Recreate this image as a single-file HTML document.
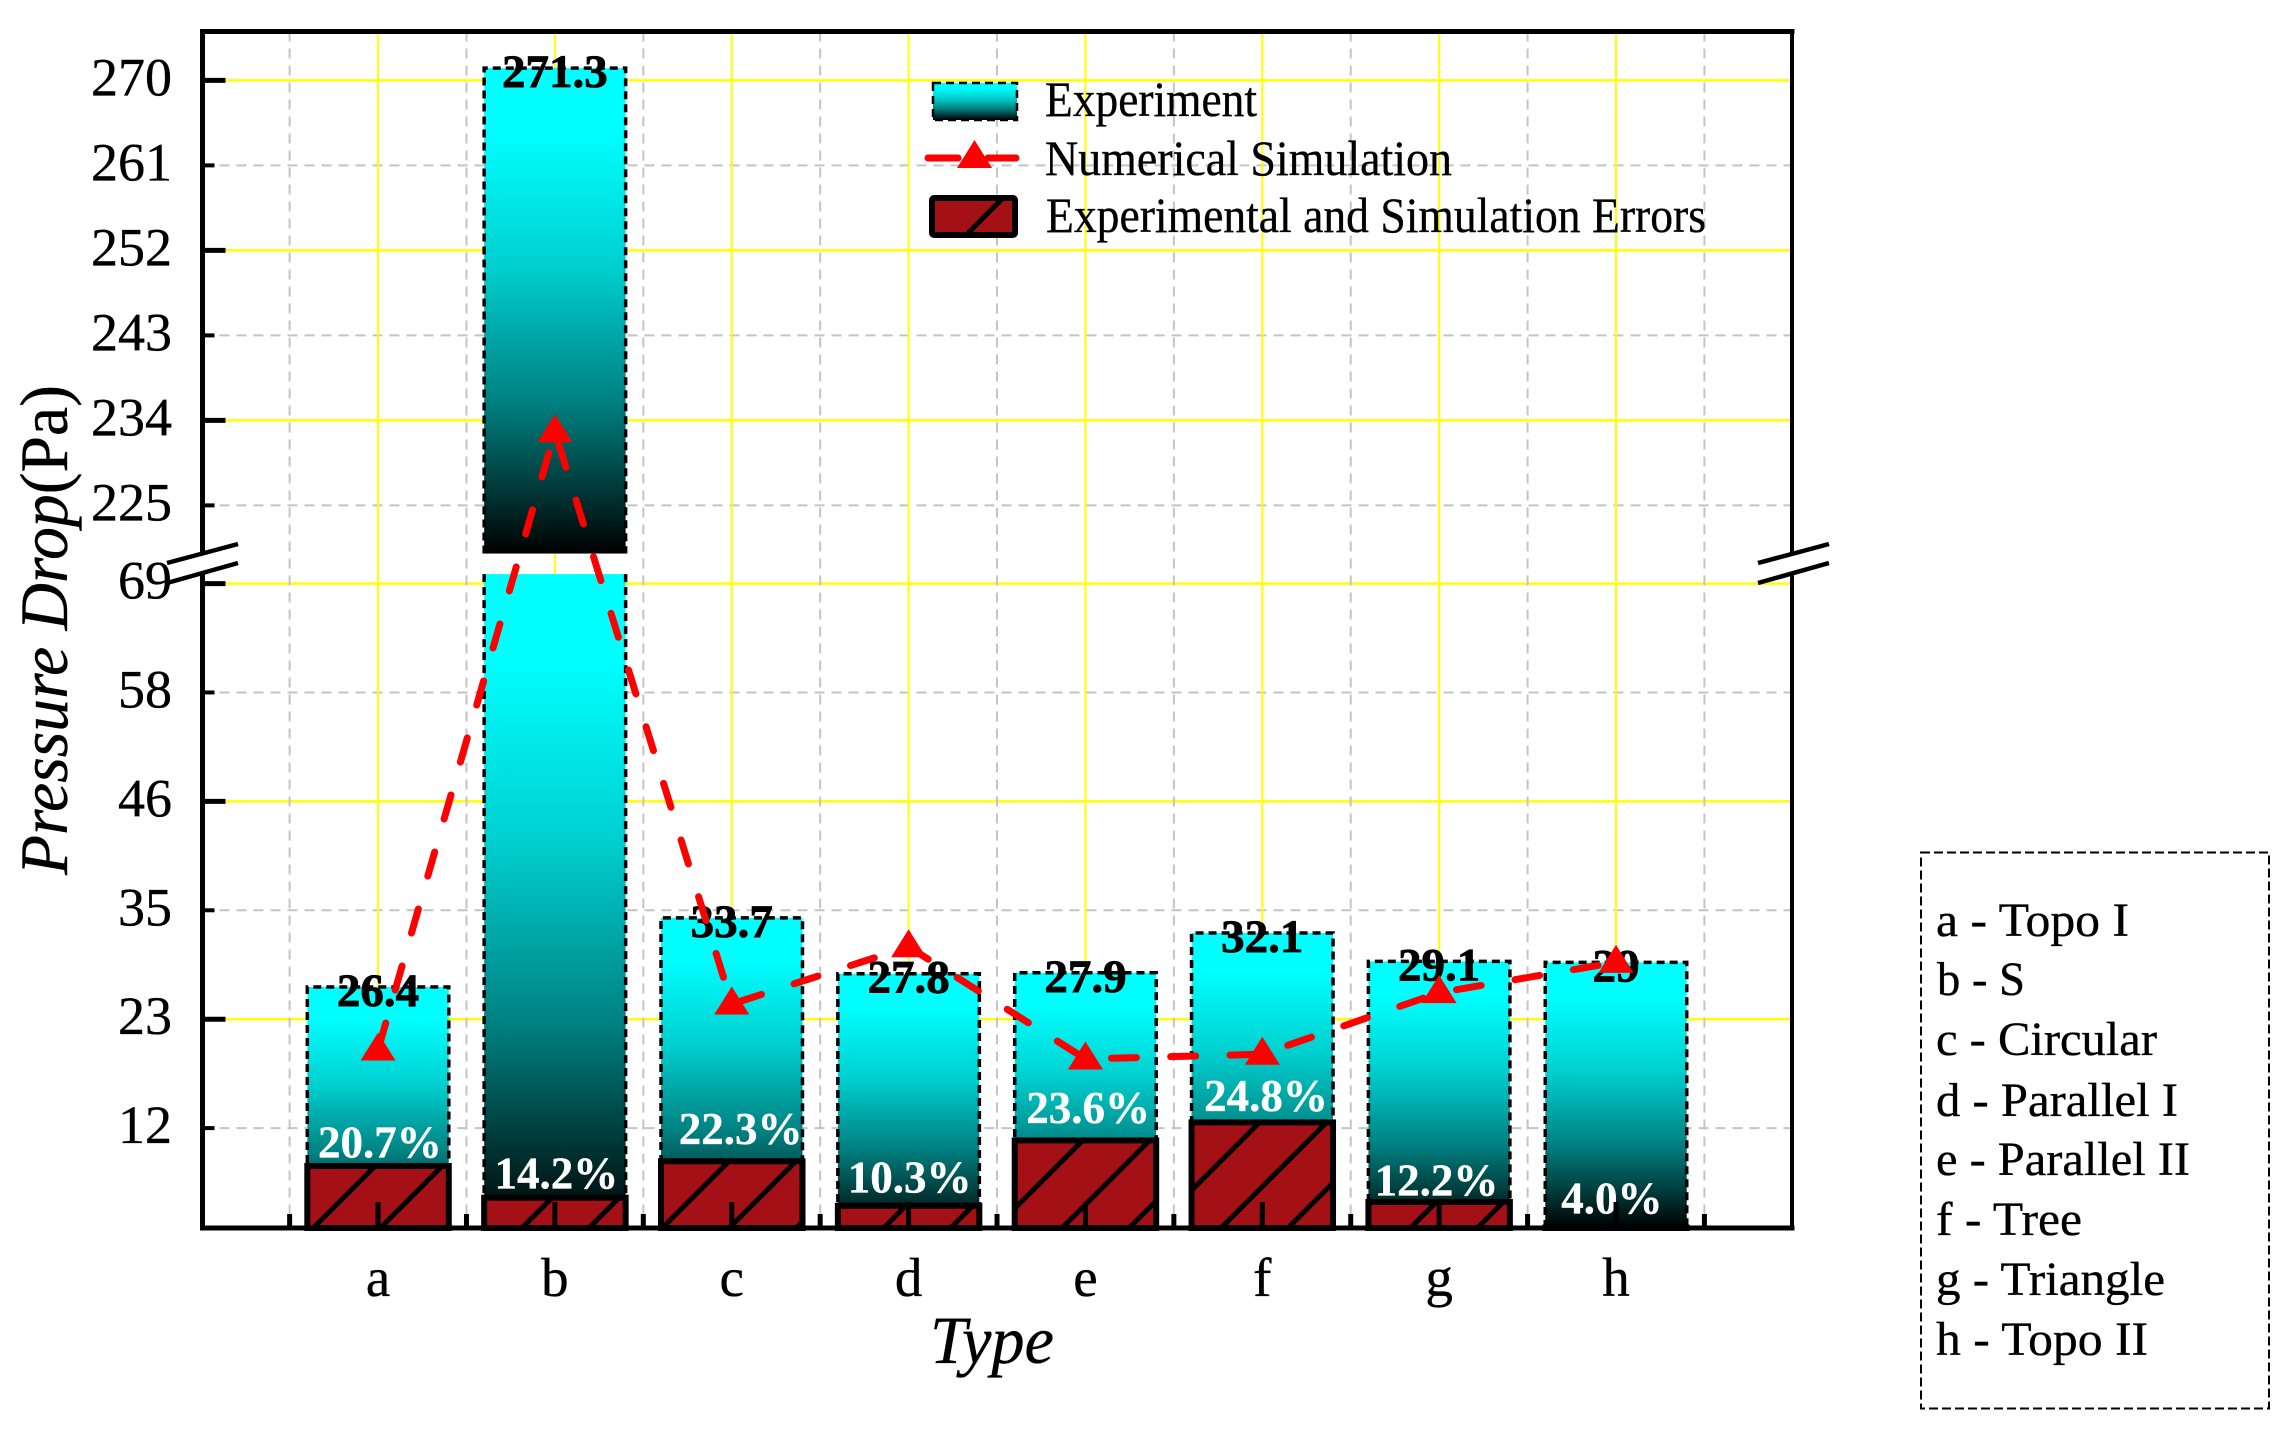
<!DOCTYPE html>
<html lang="en">
<head>
<meta charset="utf-8">
<title>Pressure Drop by Channel Type</title>
<style>
html,body{margin:0;padding:0;background:#fff;}
svg{display:block;}
text{font-family:"Liberation Serif","Times New Roman",serif;fill:#000;stroke:#000;stroke-width:.35px;}
</style>
</head>
<body>
<svg id="chart" xmlns="http://www.w3.org/2000/svg" width="2288" height="1433" viewBox="0 0 2288 1433">
  <defs>
    <linearGradient id="barGrad" x1="0" y1="0" x2="0" y2="1">
      <stop offset="0" stop-color="#00ffff"/>
      <stop offset="0.13" stop-color="#00ffff"/>
      <stop offset="0.41" stop-color="#00cfcf"/>
      <stop offset="0.69" stop-color="#008080"/>
      <stop offset="0.85" stop-color="#004040"/>
      <stop offset="1" stop-color="#000000"/>
    </linearGradient>
  </defs>
  <rect x="0" y="0" width="2288" height="1433" fill="#fff"/>
  <g id="gridLayer"></g>
  <g id="barLayer"></g>
  <g id="errorLayer"></g>
  <g id="valueLabelLayer"></g>
  <g id="errorLabelLayer"></g>
  <g id="lineLayer"></g>
  <g id="axisLayer"></g>

  <g>
    <g>
      <rect x="933" y="83" width="84" height="37" fill="url(#barGrad)" stroke="#000" stroke-width="2.5" stroke-dasharray="8 5"/>
      <text x="1045" y="116" font-size="50" textLength="212" lengthAdjust="spacingAndGlyphs">Experiment</text>
    </g>
    <g>
      <line x1="928" y1="158" x2="958" y2="158" stroke="#f00" stroke-width="7" stroke-linecap="round"/>
      <line x1="988" y1="158" x2="1016" y2="158" stroke="#f00" stroke-width="7" stroke-linecap="round"/>
      <polygon points="974.5,140 957,168 992,168" fill="#f00"/>
      <text x="1045" y="175" font-size="50" textLength="407" lengthAdjust="spacingAndGlyphs">Numerical Simulation</text>
    </g>
    <g>
      <rect x="932" y="198" width="83" height="37" rx="2" fill="#a31015" stroke="#000" stroke-width="6"/>
      <line x1="968" y1="233" x2="1003" y2="198" stroke="#000" stroke-width="5"/>
      <text x="1046" y="232" font-size="50" textLength="660" lengthAdjust="spacingAndGlyphs">Experimental and Simulation Errors</text>
    </g>
  </g>

  <g>
    <rect x="1921" y="852.5" width="348" height="556" fill="none" stroke="#000" stroke-width="2" stroke-dasharray="9 4"/>
    <text x="1936" y="936" font-size="48" textLength="193" lengthAdjust="spacingAndGlyphs">a - Topo I</text>
    <text x="1937" y="995" font-size="48" textLength="88" lengthAdjust="spacingAndGlyphs">b - S</text>
    <text x="1936" y="1055" font-size="48" textLength="221" lengthAdjust="spacingAndGlyphs">c - Circular</text>
    <text x="1936" y="1116" font-size="48" textLength="242" lengthAdjust="spacingAndGlyphs">d - Parallel I</text>
    <text x="1936" y="1175" font-size="48" textLength="254" lengthAdjust="spacingAndGlyphs">e - Parallel II</text>
    <text x="1936" y="1235" font-size="48" textLength="146" lengthAdjust="spacingAndGlyphs">f - Tree</text>
    <text x="1936" y="1295" font-size="48" textLength="229" lengthAdjust="spacingAndGlyphs">g - Triangle</text>
    <text x="1936" y="1355" font-size="48" textLength="212" lengthAdjust="spacingAndGlyphs">h - Topo II</text>
  </g>

  <text x="930" y="1363" font-size="68" font-style="italic" textLength="124" lengthAdjust="spacingAndGlyphs">Type</text>
  <text transform="translate(67,875) rotate(-90)" x="0" y="0" font-size="68" textLength="490" lengthAdjust="spacingAndGlyphs"><tspan font-style="italic">Pressure Drop</tspan>(Pa)</text>
</svg>

<script>
// ---- chart data ----
const categories = ['a', 'b', 'c', 'd', 'e', 'f', 'g', 'h'];
const experimentValues = [26.4, 271.3, 33.7, 27.8, 27.9, 32.1, 29.1, 29];
const experimentLabels = ['26.4', '271.3', '33.7', '27.8', '27.9', '32.1', '29.1', '29'];
const simulationValues = [19.75, 232.8, 24.6, 30.65, 18.8, 19.3, 25.8, 29.0];
const errorValues = [7.5, 4.15, 8.0, 3.3, 10.2, 12.1, 3.7, 1.0];
const errorLabels = ['20.7%', '14.2%', '22.3%', '10.3%', '23.6%', '24.8%', '12.2%', '4.0%'];
// how far each printed percentage sits above its error bar, in axis units / category units
const errorLabelLift = [0.9, 0.97, 1.82, 1.38, 1.84, 1.2, 0.66, 1.47];
const errorLabelShift = [0.01, 0.008, 0.05, 0.006, 0.015, 0.021, -0.015, -0.023];
const upperTicks = [270, 261, 252, 243, 234, 225];
const upperTickLabels = ['270', '261', '252', '243', '234', '225'];
const lowerTicks = [69, 57.5, 46, 34.5, 23, 11.5];
const lowerTickLabels = ['69', '58', '46', '35', '23', '12'];
const breakLow = 70;
const breakHigh = 219.9;

// ---- axis functions ----
function xScale(c) { return 201.2 + 176.85 * c; }
function yScale(v) {
  return v >= breakHigh ? 80.4 + (270 - v) * 9.444 : 1237 - 9.47 * v;
}
const BAR_W = 0.8;
const PLOT = { left: 202.5, right: 1792, top: 31.5, bottom: 1228 };
const NS = 'http://www.w3.org/2000/svg';
function make(tag, attrs, parent) {
  const n = document.createElementNS(NS, tag);
  for (const k in attrs) n.setAttribute(k, attrs[k]);
  parent.appendChild(n);
  return n;
}
const gridLayer = document.getElementById('gridLayer');
const barLayer = document.getElementById('barLayer');
const errorLayer = document.getElementById('errorLayer');
const valueLabelLayer = document.getElementById('valueLabelLayer');
const errorLabelLayer = document.getElementById('errorLabelLayer');
const lineLayer = document.getElementById('lineLayer');
const axisLayer = document.getElementById('axisLayer');
const defs = document.querySelector('#chart defs');

// ---- grid ----
function hGrid(v, major) {
  const y = yScale(v);
  const el = make('line', major
    ? { x1: PLOT.left, x2: PLOT.right, y1: y, y2: y, stroke: '#ffff00', 'stroke-width': 2.5 }
    : { x1: PLOT.left, x2: PLOT.right, y1: y, y2: y, stroke: '#c4c4c4', 'stroke-width': 2, 'stroke-dasharray': '10 7' }, gridLayer);
  
  
}
upperTicks.forEach((v, i) => hGrid(v, i % 2 === 0));
lowerTicks.forEach((v, i) => hGrid(v, i % 2 === 0));
categories.forEach((c, i) => {
  const el = make('line', { x1: xScale(i + 1), x2: xScale(i + 1), y1: PLOT.top, y2: PLOT.bottom, stroke: '#ffff00', 'stroke-width': 2 }, gridLayer);
  
  
});
for (let i = 0; i <= categories.length; i++) {
  const el = make('line', { x1: xScale(i + 0.5), x2: xScale(i + 0.5), y1: PLOT.top, y2: PLOT.bottom, stroke: '#c4c4c4', 'stroke-width': 2, 'stroke-dasharray': '10 7' }, gridLayer);
  
  
}

// ---- bars ----
function barPart(i, top, bottom, topEdge, name) {
  const l = xScale(i + 1 - BAR_W / 2), r = xScale(i + 1 + BAR_W / 2);
  const fill = make('rect', { x: l, y: top, width: r - l, height: bottom - top, fill: 'url(#barGrad)' }, barLayer);
  
  
  const d = (topEdge ? 'M' + l + ' ' + bottom + 'L' + l + ' ' + top + 'L' + r + ' ' + top + 'L' + r + ' ' + bottom
                     : 'M' + l + ' ' + top + 'L' + l + ' ' + bottom + 'M' + r + ' ' + top + 'L' + r + ' ' + bottom);
  const edge = make('path', { d: d, fill: 'none', stroke: '#000', 'stroke-width': 3.5, 'stroke-dasharray': '8 5' }, barLayer);
  
  
}
experimentValues.forEach((v, i) => {
  if (v >= breakHigh) {
    barPart(i, yScale(v), yScale(breakHigh), true, 'bar-' + categories[i] + '-upper');
    barPart(i, yScale(breakLow), PLOT.bottom, false, 'bar-' + categories[i] + '-lower');
  } else {
    barPart(i, yScale(v), PLOT.bottom, true, 'bar-' + categories[i]);
  }
});

// ---- error bars with 45 degree hatching anchored at the top-left corner ----
errorValues.forEach((v, i) => {
  const l = xScale(i + 1 - BAR_W / 2), r = xScale(i + 1 + BAR_W / 2);
  const top = yScale(v), h = PLOT.bottom - top;
  const fill = make('rect', { x: l, y: top, width: r - l, height: h, fill: '#a31015' }, errorLayer);
  
  
  const clip = make('clipPath', { id: 'errClip' + i }, defs);
  make('rect', { x: l, y: top, width: r - l, height: h }, clip);
  const hatch = make('g', { 'clip-path': 'url(#errClip' + i + ')' }, errorLayer);
  
  
  for (let xt = l + 68 - 67; xt - h < r; xt += 67) {
    const ln = make('line', { x1: xt, y1: top, x2: xt - h, y2: PLOT.bottom, stroke: '#000', 'stroke-width': 5 }, hatch);
    
    
  }
  const edge = make('rect', { x: l, y: top, width: r - l, height: h, fill: 'none', stroke: '#000', 'stroke-width': 6 }, errorLayer);
  
  
});

// ---- printed values ----
experimentValues.forEach((v, i) => {
  const t = make('text', { x: xScale(i + 1), y: yScale(v) + 19, 'text-anchor': 'middle', 'font-size': 47, 'font-weight': 'bold' }, valueLabelLayer);
  t.style.strokeWidth = '0.8px';
  t.textContent = experimentLabels[i];
  
  
});
errorValues.forEach((v, i) => {
  const t = make('text', { x: xScale(i + 1 + errorLabelShift[i]), y: yScale(v + errorLabelLift[i]), 'text-anchor': 'middle', 'font-size': 45, 'font-weight': 'bold' }, errorLabelLayer);
  t.style.fill = '#fff';
  t.style.stroke = '#fff';
  t.textContent = errorLabels[i];
  
  
});

// ---- simulation line ----
const linePoints = simulationValues.map((v, i) => xScale(i + 1) + ',' + yScale(v)).join(' ');
const simLine = make('polyline', { points: linePoints, fill: 'none', stroke: '#ff0000', 'stroke-width': 7, 'stroke-linecap': 'round', 'stroke-linejoin': 'round', 'stroke-dasharray': '25 34.3', 'stroke-dashoffset': -3 }, lineLayer);


simulationValues.forEach((v, i) => {
  const cx = xScale(i + 1), cy = yScale(v);
  const p = make('polygon', { points: cx + ',' + (cy - 17.5) + ' ' + (cx - 17.5) + ',' + (cy + 10.5) + ' ' + (cx + 17.5) + ',' + (cy + 10.5), fill: '#ff0000' }, lineLayer);
  
  
});

// ---- axes ----
function spine(x1, y1, x2, y2, w, name) {
  const l = make('line', { x1: x1, y1: y1, x2: x2, y2: y2, stroke: '#000', 'stroke-width': w, 'stroke-linecap': 'square' }, axisLayer);
  
  
}
spine(PLOT.left, PLOT.top, PLOT.left, PLOT.bottom, 5, 'left-spine');
spine(PLOT.left, PLOT.top, PLOT.right, PLOT.top, 5, 'top-spine');
spine(PLOT.right, PLOT.top, PLOT.right, PLOT.bottom, 4, 'right-spine');
spine(PLOT.left, PLOT.bottom, PLOT.right, PLOT.bottom, 5, 'bottom-spine');

function yTick(v, label, major) {
  const y = yScale(v);
  const l = make('line', { x1: PLOT.left, x2: PLOT.left + (major ? 23 : 12), y1: y, y2: y, stroke: '#000', 'stroke-width': major ? 5 : 4 }, axisLayer);
  
  
}
upperTicks.forEach((v, i) => yTick(v, upperTickLabels[i], i % 2 === 0));
lowerTicks.forEach((v, i) => yTick(v, lowerTickLabels[i], i % 2 === 0));
categories.forEach((c, i) => {
  const x = xScale(i + 1);
  const tk = make('line', { x1: x, x2: x, y1: PLOT.bottom, y2: PLOT.bottom - 26, stroke: '#000', 'stroke-width': 5 }, axisLayer);
  
  
  const t = make('text', { x: x, y: 1296, 'text-anchor': 'middle', 'font-size': 55 }, axisLayer);
  t.textContent = c;
  
  
});
for (let i = 0; i <= categories.length; i++) {
  const x = xScale(i + 0.5);
  const tk = make('line', { x1: x, x2: x, y1: PLOT.bottom, y2: PLOT.bottom - 14, stroke: '#000', 'stroke-width': 5 }, axisLayer);
  
  
}

// ---- axis break marks ----
function breakMark(x1, x2, name) {
  const pts = [[x1, 563], [x2, 544], [x2, 563], [x1, 583]];
  const gap = make('polygon', { points: pts.map(p => p.join(',')).join(' '), fill: '#fff' }, axisLayer);
  
  
  const a = make('line', { x1: x1, y1: 563, x2: x2, y2: 544, stroke: '#000', 'stroke-width': 4.5 }, axisLayer);
  
  
  const b = make('line', { x1: x1, y1: 583, x2: x2, y2: 563, stroke: '#000', 'stroke-width': 4.5 }, axisLayer);
  
  
}
breakMark(167, 238, 'left-axis-break');
breakMark(1758, 1829, 'right-axis-break');

// ---- y tick labels ----
function yLabel(v, label) {
  const t = make('text', { x: 172, y: yScale(v) + 15, 'text-anchor': 'end', 'font-size': 54 }, axisLayer);
  t.textContent = label;
  
  
}
upperTicks.forEach((v, i) => yLabel(v, upperTickLabels[i]));
lowerTicks.forEach((v, i) => yLabel(v, lowerTickLabels[i]));
</script>
</body>
</html>
